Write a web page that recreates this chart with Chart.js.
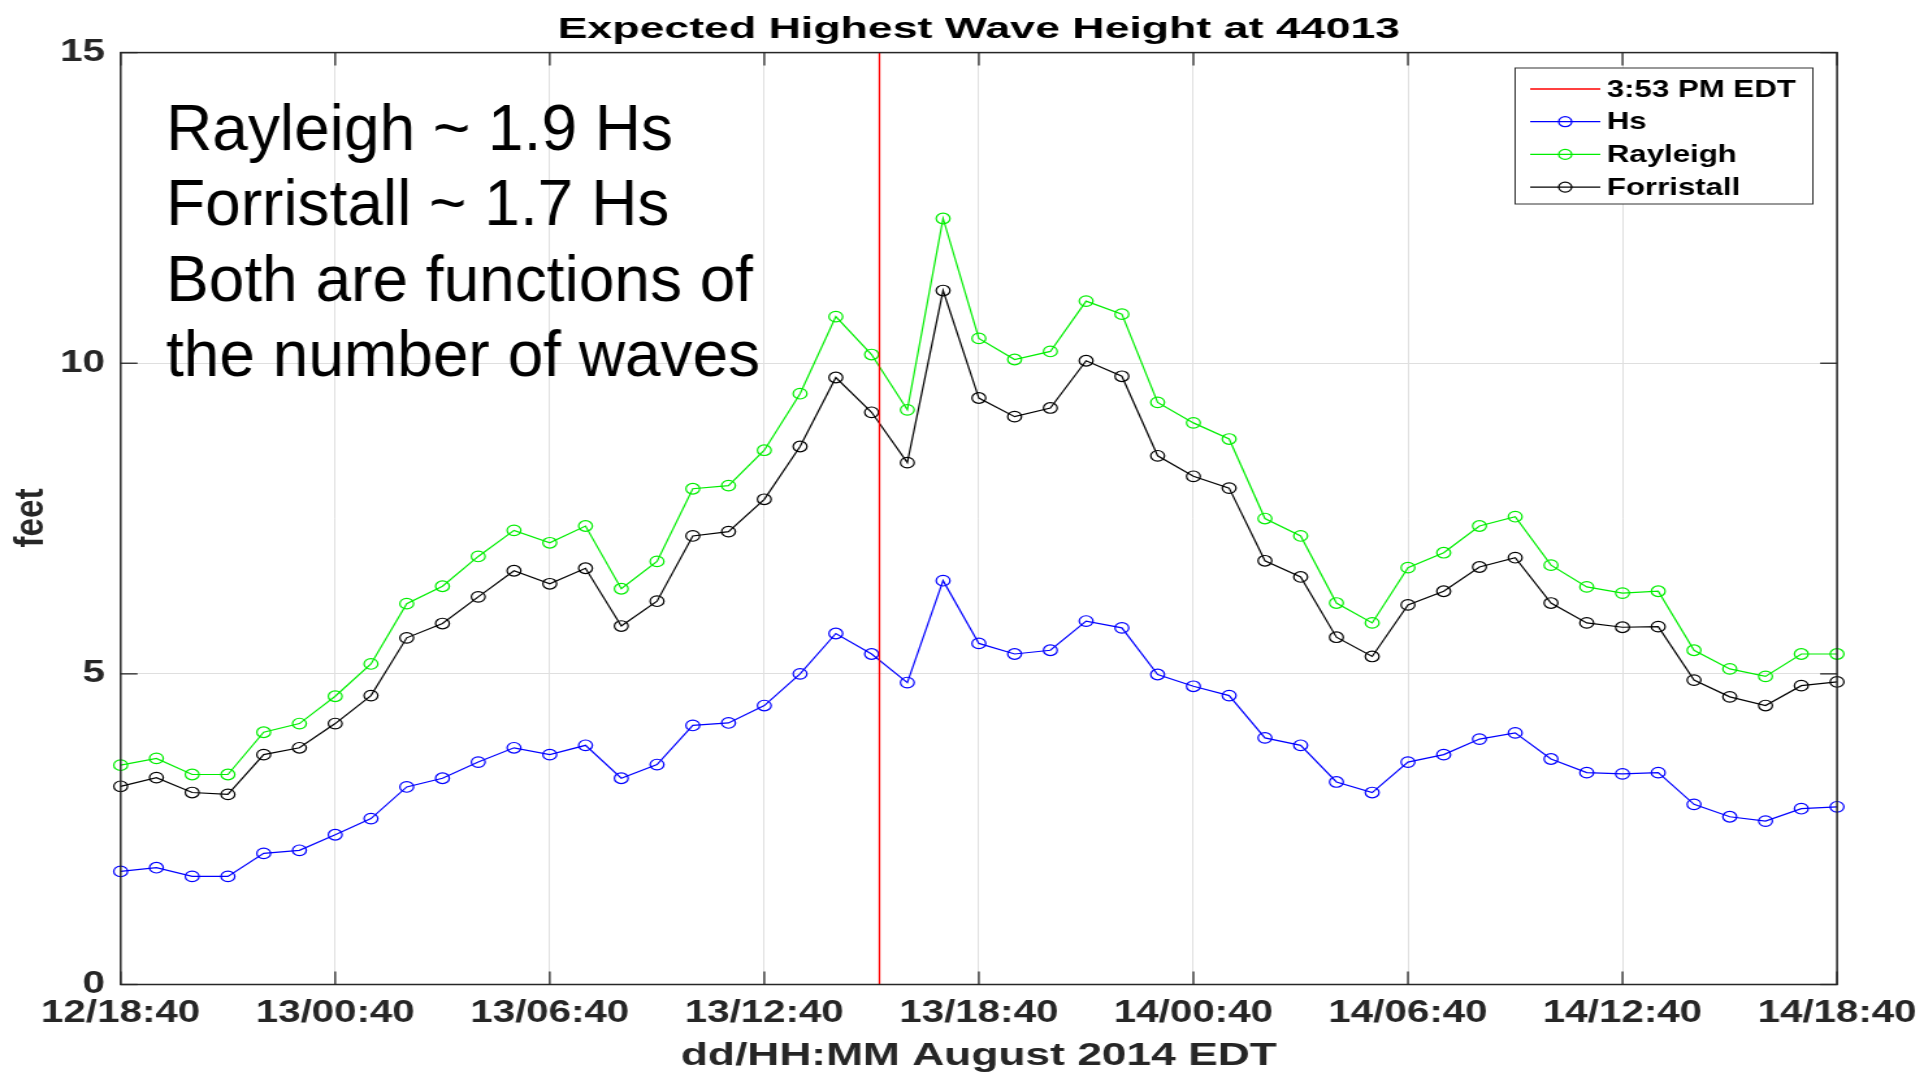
<!DOCTYPE html>
<html>
<head>
<meta charset="utf-8">
<script src="https://cdn.jsdelivr.net/npm/chart.js@4.4.1/dist/chart.umd.min.js"></script>
<style>
  html, body { margin: 0; padding: 0; background: #fff; overflow: hidden; }
  /* the source picture is stretched sideways, so the whole canvas is too */
  #wrap { width: 1477px; height: 1074px; transform: scaleX(1.3); transform-origin: 0 0; }
</style>
</head>
<body>
<div id="wrap"><canvas id="chart" width="1477" height="1074"></canvas></div>
<script>
const STRETCH = 1.3;

// hours since 12/18:40 EDT
const hours = [0, 1, 2, 3, 4, 5, 6, 7, 8, 9, 10, 11, 12, 13, 14, 15, 16, 17, 18, 19, 20, 21, 22, 23, 24,
  25, 26, 27, 28, 29, 30, 31, 32, 33, 34, 35, 36, 37, 38, 39, 40, 41, 42, 43, 44, 45, 46, 47, 48];

const hs = [1.82, 1.88, 1.74, 1.74, 2.11, 2.16, 2.41, 2.67, 3.18, 3.32, 3.58, 3.81, 3.70, 3.85, 3.32, 3.54,
  4.17, 4.21, 4.49, 5.00, 5.65, 5.32, 4.86, 6.50, 5.49, 5.32, 5.38, 5.85, 5.74, 4.99, 4.80, 4.65,
  3.97, 3.85, 3.26, 3.09, 3.58, 3.70, 3.95, 4.05, 3.63, 3.41, 3.39, 3.41, 2.90, 2.70, 2.63, 2.83, 2.86];

const rayleigh = [3.53, 3.64, 3.38, 3.38, 4.06, 4.20, 4.64, 5.16, 6.13, 6.41, 6.89, 7.31, 7.11, 7.38, 6.37, 6.81,
  7.98, 8.03, 8.60, 9.51, 10.75, 10.14, 9.25, 12.33, 10.40, 10.06, 10.19, 11.00, 10.79, 9.37, 9.04, 8.78,
  7.50, 7.22, 6.14, 5.82, 6.71, 6.95, 7.38, 7.53, 6.75, 6.40, 6.30, 6.33, 5.38, 5.08, 4.96, 5.32, 5.32];

const forristall = [3.19, 3.33, 3.09, 3.06, 3.70, 3.81, 4.20, 4.65, 5.58, 5.81, 6.24, 6.66, 6.45, 6.70, 5.77, 6.17,
  7.22, 7.29, 7.81, 8.66, 9.77, 9.21, 8.40, 11.17, 9.44, 9.14, 9.28, 10.04, 9.79, 8.51, 8.18, 7.99,
  6.82, 6.56, 5.59, 5.28, 6.11, 6.33, 6.72, 6.87, 6.14, 5.82, 5.75, 5.76, 4.90, 4.63, 4.49, 4.81, 4.87];

// 3:53 PM EDT on the 13th
const nowHour = [21.22];

const xTickLabels = ['12/18:40', '13/00:40', '13/06:40', '13/12:40', '13/18:40',
  '14/00:40', '14/06:40', '14/12:40', '14/18:40'];

const seriesNames = ['3:53 PM EDT', 'Hs', 'Rayleigh', 'Forristall'];

const notes = ['Rayleigh ~ 1.9 Hs', 'Forristall ~ 1.7 Hs', 'Both are functions of', 'the number of waves'];

const titleText = 'Expected Highest Wave Height at 44013';
const xTitle = 'dd/HH:MM August 2014 EDT';
const yTitle = 'feet';

const FONT = '"Liberation Sans", Arial, Helvetica, sans-serif';
const AXIS = '#262626';

const pts = vals => hours.map((h, i) => ({ x: h, y: vals[i] }));

function line(ctx, x1, y1, x2, y2) {
  ctx.beginPath();
  ctx.moveTo(x1, y1);
  ctx.lineTo(x2, y2);
  ctx.stroke();
}

// box round the axes and the inward tick marks
const framePlugin = {
  id: 'frame',
  afterDatasetsDraw(chart) {
    const { ctx, chartArea: a } = chart;
    const xs = chart.scales.x, ys = chart.scales.y;
    ctx.save();
    ctx.strokeStyle = AXIS;
    ctx.lineWidth = 1.5;
    ctx.strokeRect(a.left, a.top, a.right - a.left, a.bottom - a.top);
    ctx.lineWidth = 1.3;
    xs.ticks.forEach(t => {
      const px = xs.getPixelForValue(t.value);
      line(ctx, px, a.bottom, px, a.bottom - 13);
      line(ctx, px, a.top, px, a.top + 13);
    });
    ys.ticks.forEach(t => {
      const py = ys.getPixelForValue(t.value);
      line(ctx, a.left, py, a.left + 13, py);
      line(ctx, a.right, py, a.right - 13, py);
    });
    ctx.restore();
  }
};

// titles, the note and the boxed legend
const textPlugin = {
  id: 'texts',
  afterDraw(chart) {
    const { ctx, chartArea: a } = chart;
    const cx = (a.left + a.right) / 2;
    ctx.save();
    ctx.fillStyle = '#000';

    // title
    ctx.save();
    ctx.font = 'bold 29px ' + FONT;
    ctx.textAlign = 'center';
    ctx.textBaseline = 'alphabetic';
    ctx.translate(cx, 38);
    ctx.scale(1.185, 1);
    ctx.fillText(titleText, 0, 0);
    ctx.restore();

    // x title
    ctx.save();
    ctx.font = 'bold 31px ' + FONT;
    ctx.fillStyle = AXIS;
    ctx.textAlign = 'center';
    ctx.textBaseline = 'alphabetic';
    ctx.translate(cx, 1065);
    ctx.scale(1.1, 1);
    ctx.fillText(xTitle, 0, 0);
    ctx.restore();

    // y title
    ctx.save();
    ctx.font = 'bold 31px ' + FONT;
    ctx.fillStyle = AXIS;
    ctx.textAlign = 'center';
    ctx.textBaseline = 'middle';
    ctx.translate(24.5, 518);
    ctx.rotate(-Math.PI / 2);
    ctx.scale(1.07, 1);
    ctx.fillText(yTitle, 0, 0);
    ctx.restore();

    // note, pasted on top of the stretched plot, so it is not stretched itself
    ctx.save();
    ctx.font = '64px ' + FONT;
    ctx.textAlign = 'left';
    ctx.textBaseline = 'alphabetic';
    ctx.scale(1 / STRETCH, 1);
    notes.forEach((s, i) => ctx.fillText(s, 166, 149.5 + i * 75.6));
    ctx.restore();

    // legend
    const bx = 1165.5, by = 68, bw = 229, bh = 136;
    ctx.fillStyle = '#fff';
    ctx.fillRect(bx, by, bw, bh);
    ctx.strokeStyle = '#333';
    ctx.lineWidth = 1;
    ctx.strokeRect(bx, by, bw, bh);
    ctx.font = 'bold 24px ' + FONT;
    ctx.textAlign = 'left';
    ctx.textBaseline = 'middle';
    chart.data.datasets.forEach((ds, i) => {
      const y = 89 + i * 32.7;
      ctx.strokeStyle = ds.borderColor;
      ctx.lineWidth = ds.borderWidth;
      line(ctx, 1177, y, 1231, y);
      if (ds.pointRadius > 0) {
        ctx.beginPath();
        ctx.arc(1204, y, 5, 0, Math.PI * 2);
        ctx.stroke();
      }
      ctx.fillStyle = '#000';
      ctx.fillText(ds.label, 1236, y + 1);
    });
    ctx.restore();
  }
};

const markerStyle = color => ({
  borderColor: color,
  borderWidth: 1.2,
  pointRadius: 5.3,
  pointBorderColor: color,
  pointBorderWidth: 1.2,
  pointBackgroundColor: 'rgba(0,0,0,0)',
  pointStyle: 'circle',
  tension: 0,
  clip: false
});

new Chart(document.getElementById('chart'), {
  type: 'line',
  data: {
    datasets: [
      {
        label: seriesNames[0],
        data: [{ x: nowHour[0], y: 0 }, { x: nowHour[0], y: 15 }],
        borderColor: '#ff0000',
        borderWidth: 1.3,
        pointRadius: 0
      },
      { label: seriesNames[1], data: pts(hs), ...markerStyle('#0000ff') },
      { label: seriesNames[2], data: pts(rayleigh), ...markerStyle('#00ee00') },
      { label: seriesNames[3], data: pts(forristall), ...markerStyle('#000000') }
    ]
  },
  options: {
    responsive: false,
    devicePixelRatio: 1,
    animation: false,
    events: [],
    layout: { padding: { left: 0, top: 52.6, right: 63.9, bottom: 0 } },
    scales: {
      x: {
        type: 'linear',
        min: 0,
        max: 48,
        ticks: {
          stepSize: 6,
          padding: 10,
          color: AXIS,
          font: { family: FONT, size: 31, weight: 'bold' },
          maxRotation: 0,
          callback: v => xTickLabels[v / 6]
        },
        grid: { color: '#dfdfdf', drawTicks: false },
        border: { display: false },
        afterFit: s => {
          s.height = 89.5;
          // end labels may hang past the plot, as in the original
          s.paddingLeft = 0;
          s.paddingRight = 0;
        }
      },
      y: {
        type: 'linear',
        min: 0,
        max: 15,
        ticks: {
          stepSize: 5,
          padding: 12,
          color: AXIS,
          font: { family: FONT, size: 31, weight: 'bold' }
        },
        grid: { color: '#dfdfdf', drawTicks: false },
        border: { display: false },
        afterFit: s => {
          s.width = 92.8;
          s.paddingTop = 0;
          s.paddingBottom = 0;
        }
      }
    },
    plugins: {
      legend: { display: false },
      title: { display: false },
      tooltip: { enabled: false }
    }
  },
  plugins: [framePlugin, textPlugin]
});
</script>
</body>
</html>
